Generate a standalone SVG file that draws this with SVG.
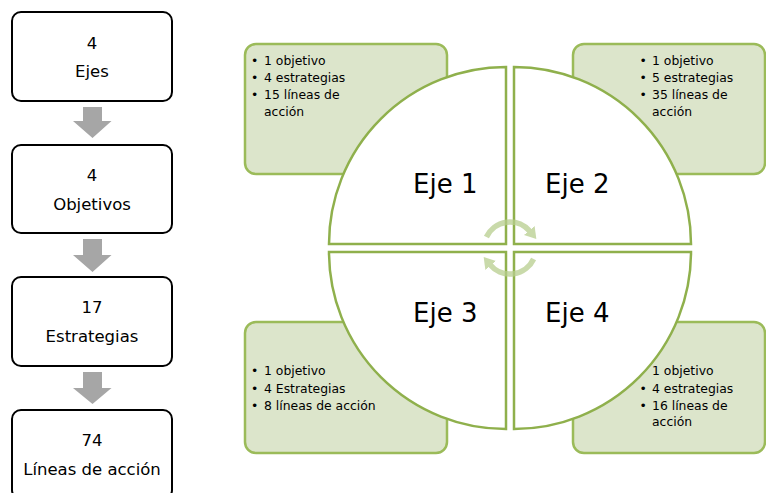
<svg xmlns="http://www.w3.org/2000/svg" width="766" height="493" viewBox="0 0 766 493">
<defs>
<style>
.fbox{fill:#fff;stroke:#000;stroke-width:2}
.ft{font-family:"DejaVu Sans",Verdana,sans-serif;font-size:16.5px;fill:#000;text-anchor:middle}
.arr{fill:#a6a6a6}
.gbox{fill:#dce5cb;stroke:#9bbb59;stroke-width:2.5}
.bt{font-family:"DejaVu Sans",Verdana,sans-serif;font-size:12.4px;fill:#000}
.quad{fill:#fff;stroke:#8fb04c;stroke-width:2.5}
.eje{font-family:"DejaVu Sans",Verdana,sans-serif;font-size:26px;fill:#000}
.cyc{fill:none;stroke:#b8ce8e;stroke-width:5.5;opacity:0.75}
</style>
<marker id="ah" markerUnits="userSpaceOnUse" markerWidth="12" markerHeight="14" refX="1" refY="7" orient="auto">
<path d="M0,0 L11,7 L0,14 z" fill="#b8ce8e"/>
</marker>
</defs>

<g id="flow-ejes"><rect class="fbox" x="12" y="12" width="160" height="89" rx="9"/><text class="ft" x="92" y="49">4</text><text class="ft" x="92" y="77">Ejes</text></g>
<g id="flow-objetivos"><rect class="fbox" x="12" y="145" width="160" height="88" rx="9"/><text class="ft" x="92" y="181">4</text><text class="ft" x="92" y="210">Objetivos</text></g>
<g id="flow-estrategias"><rect class="fbox" x="12" y="277" width="160" height="89" rx="9"/><text class="ft" x="92" y="313">17</text><text class="ft" x="92" y="342">Estrategias</text></g>
<g id="flow-lineas"><rect class="fbox" x="12" y="410" width="160" height="89" rx="9"/><text class="ft" x="92" y="446">74</text><text class="ft" x="92" y="475">Líneas de acción</text></g>

<g id="connectors">
<path class="arr" d="M83,107 H102 V121 H111.5 L92.5,138 L73,121 H83 Z"/>
<path class="arr" d="M83,239 H102 V255 H111.5 L92.5,272 L73,255 H83 Z"/>
<path class="arr" d="M83,372 H102 V388 H111.5 L92.5,404 L73,388 H83 Z"/>
</g>

<g id="detalle-eje1"><rect class="gbox" x="245" y="44" width="202" height="130" rx="11"/>
<text class="bt" x="251" y="64.5">• <tspan x="264">1 objetivo</tspan></text>
<text class="bt" x="251" y="82">• <tspan x="264">4 estrategias</tspan></text>
<text class="bt" x="251" y="99">• <tspan x="264">15 líneas de</tspan></text>
<text class="bt" x="264" y="116">acción</text></g>

<g id="detalle-eje2"><rect class="gbox" x="573" y="44" width="192" height="130" rx="11"/>
<text class="bt" x="639.5" y="64.5">• <tspan x="652">1 objetivo</tspan></text>
<text class="bt" x="639.5" y="82">• <tspan x="652">5 estrategias</tspan></text>
<text class="bt" x="639.5" y="99">• <tspan x="652">35 líneas de</tspan></text>
<text class="bt" x="652" y="116">acción</text></g>

<g id="detalle-eje3"><rect class="gbox" x="245" y="322" width="202" height="131" rx="11"/>
<text class="bt" x="251" y="375">• <tspan x="264">1 objetivo</tspan></text>
<text class="bt" x="251" y="392.5">• <tspan x="264">4 Estrategias</tspan></text>
<text class="bt" x="251" y="410">• <tspan x="264">8 líneas de acción</tspan></text></g>

<g id="detalle-eje4"><rect class="gbox" x="573" y="322" width="192" height="131" rx="11"/>
<text class="bt" x="639.5" y="375">• <tspan x="652">1 objetivo</tspan></text>
<text class="bt" x="639.5" y="392.5">• <tspan x="652">4 estrategias</tspan></text>
<text class="bt" x="639.5" y="410">• <tspan x="652">16 líneas de</tspan></text>
<text class="bt" x="652" y="426">acción</text></g>

<g id="eje1"><path class="quad" d="M506,244 H329 A177,177 0 0 1 506,67 Z"/><text class="eje" x="413" y="193">Eje 1</text></g>
<g id="eje2"><path class="quad" d="M514,244 V67 A177,177 0 0 1 691,244 Z"/><text class="eje" x="545" y="193">Eje 2</text></g>
<g id="eje3"><path class="quad" d="M506,252 V429 A177,177 0 0 1 329,252 Z"/><text class="eje" x="413" y="322">Eje 3</text></g>
<g id="eje4"><path class="quad" d="M514,252 H691 A177,177 0 0 1 514,429 Z"/><text class="eje" x="545" y="322">Eje 4</text></g>

<g id="ciclo">
<path class="cyc" d="M486.4,237 A26,26 0 0 1 529.9,231.3" marker-end="url(#ah)"/>
<path class="cyc" d="M533.6,259 A26,26 0 0 1 490.1,264.7" marker-end="url(#ah)"/>
</g>
</svg>
